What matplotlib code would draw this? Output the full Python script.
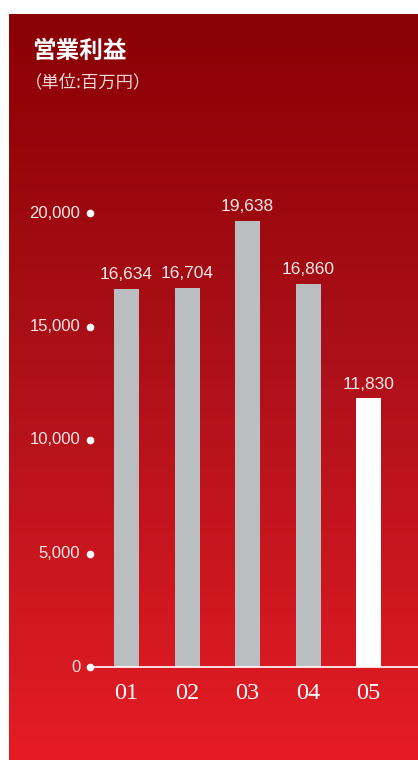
import numpy as np
import matplotlib
matplotlib.use('Agg')
import matplotlib.pyplot as plt
from matplotlib.colors import LinearSegmentedColormap

# operating income, millions of yen
years = ['01', '02', '03', '04', '05']
profit = [16634, 16704, 19638, 16860, 11830]
y_ticks = [0, 5000, 10000, 15000, 20000]
bar_colors = ['#bbbec0', '#bbbec0', '#bbbec0', '#bbbec0', '#ffffff']

W, H = 418, 760
fig = plt.figure(figsize=(W / 100, H / 100), dpi=100)
fig.patch.set_facecolor('white')

# red gradient panel
bg = fig.add_axes([9 / W, 0, (W - 9) / W, (H - 14) / H])
grad = LinearSegmentedColormap.from_list(
    'panel', [(0.0, '#e61c24'), (0.5, '#b0111a'), (1.0, '#8a0004')])
bg.imshow(np.linspace(0, 1, 256).reshape(-1, 1), aspect='auto', cmap=grad,
          origin='lower', extent=[0, 1, 0, 1])
bg.set_axis_off()

fig.text(32 / W, 1 - 51 / H, '営業利益', color='white', fontsize=17,
         fontweight='bold', family=['Noto Sans CJK JP', 'DejaVu Sans'],
         va='center', ha='left')
fig.text(25 / W, 1 - 82 / H, '（単位:百万円）', color='#f0d8d8', fontsize=12.5,
         family=['Noto Sans CJK JP', 'DejaVu Sans'], va='center', ha='left')

# chart area: left edge at the tick dots, baseline at y=0
ymax = 22000
px_per_unit = 454 / 20000
ax_h = ymax * px_per_unit
ax = fig.add_axes([90 / W, (H - 667) / H, (W - 90) / W, ax_h / H])
ax.set_facecolor('none')
x = np.arange(len(years))
x0 = (90 - 126.5) / 60.5
x1 = (W - 126.5) / 60.5
ax.set_xlim(x0, x1)
ax.set_ylim(0, ymax)

num_font = dict(family='Liberation Sans', color='#f8e8e8')

ax.bar(x, profit, width=25 / 60.5, color=bar_colors, zorder=2)
for xi, v in zip(x, profit):
    ax.annotate(f'{v:,}', (xi, v), xytext=(0, 5), textcoords='offset points',
                ha='center', va='bottom', fontsize=12.5, **num_font)

# baseline and tick dots
ax.axhline(0, color='white', lw=1.2, zorder=3, clip_on=False)
ax.scatter([x0] * len(y_ticks), y_ticks, s=30, color='white', zorder=4,
           clip_on=False, linewidths=0)
for t in y_ticks:
    ax.annotate(f'{t:,}', (x0, t), xytext=(-7, 0), textcoords='offset points',
                ha='right', va='center', fontsize=12, **num_font)

for xi, lab in zip(x, years):
    ax.annotate(lab, (xi, 0), xytext=(0, -19), textcoords='offset points',
                ha='center', va='center', color='white', fontsize=17.5,
                family='Liberation Serif')

for s in ax.spines.values():
    s.set_visible(False)
ax.set_xticks([])
ax.set_yticks([])

fig.savefig('out.png', dpi=100, facecolor=fig.get_facecolor())
